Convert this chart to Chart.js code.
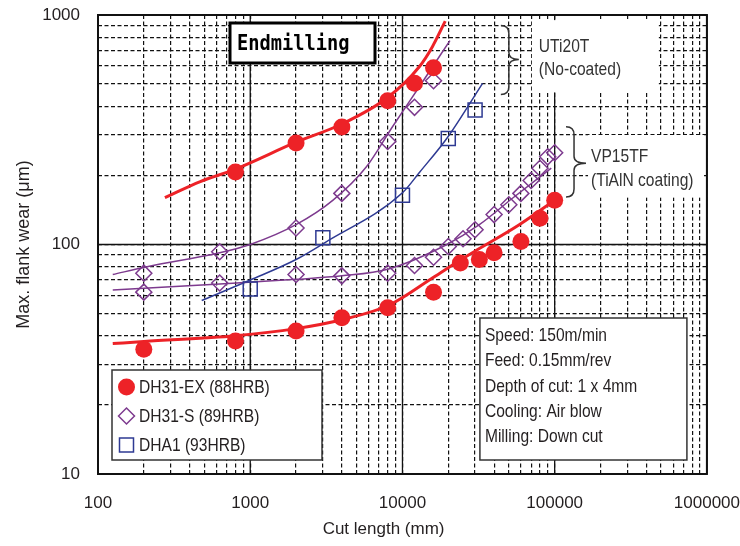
<!DOCTYPE html>
<html>
<head>
<meta charset="utf-8">
<script src="https://cdn.jsdelivr.net/npm/chart.js@4.4.1/dist/chart.umd.min.js"></script>
<style>
  html, body { margin: 0; padding: 0; background: #fff; }
  canvas { display: block; }
</style>
</head>
<body>
<canvas id="grafico" width="740" height="546"></canvas>
<script>
// measured points (cut length mm / flank wear um)
const cutExUTi  = [800, 2000, 4000, 8000, 12000, 16000];
const wearExUTi = [207, 277, 325, 423, 504, 589];
const cutExVP   = [200, 800, 2000, 4000, 8000, 16000, 24000, 32000, 40000, 60000, 80000, 100000];
const wearExVP  = [35, 38, 42, 48, 53, 62, 83, 86, 92, 103, 130, 156];
const cutSUTi   = [200, 630, 2000, 4000, 8000, 12000, 16000];
const wearSUTi  = [75, 93, 118, 167, 281, 396, 517];
const cutSVP    = [200, 630, 2000, 4000, 8000, 12000, 16000, 20000, 25000, 30000, 40000, 50000, 60000, 70000, 80000, 90000, 100000];
const wearSVP   = [62, 68, 74, 73, 75, 81, 88, 98, 106, 116, 135, 149, 167, 190, 215, 241, 251];
const cutA1     = [1000, 3000, 10000, 20000, 30000];
const wearA1    = [64, 107, 164, 290, 386];

// trend curves
const fitExUTiX = [275, 470, 800, 2000, 4000, 8000, 12900, 15700, 19100];
const fitExUTiY = [160, 188, 213, 279, 335, 437, 595, 726, 940];
const fitExVPX  = [125, 200, 800, 2000, 4000, 8200, 16000, 23600, 32000, 58500, 100000];
const fitExVPY  = [37, 37.8, 40, 43, 47, 54.5, 72, 85, 96, 122, 156];
const fitSUTiX  = [125, 210, 630, 1000, 2000, 3500, 5800, 8600, 12900, 20500];
const fitSUTiY  = [74, 80, 92, 100, 122, 156, 218, 326, 487, 773];
const fitSVPX   = [125, 630, 2000, 4000, 8000, 19300, 32000, 52800, 95000];
const fitSVPY   = [63.4, 67.3, 70.5, 73, 78, 99.5, 122, 159, 215];
const fitA1X    = [480, 1000, 2000, 3100, 10000, 13000, 19700, 33600];
const fitA1Y    = [57, 70, 86, 102, 168, 207, 292, 504];

// axes
const xLabels = ['100', '1000', '10000', '100000', '1000000'];
const yLabels = ['10', '100', '1000'];
const steps = [1, 2, 3, 4, 5, 6, 7, 8, 9];

const legendItems = ['DH31-EX (88HRB)', 'DH31-S (89HRB)', 'DHA1 (93HRB)'];
const conditions = ['Speed: 150m/min', 'Feed: 0.15mm/rev', 'Depth of cut: 1 x 4mm', 'Cooling: Air blow', 'Milling: Down cut'];

const RED = '#ED2227', PURPLE = '#7D3A8E', BLUE = '#2E3A93', INK = '#231F20';
const SANS = "'Liberation Sans', Arial, sans-serif";

function gridTicks(labels) {
  const out = [];
  labels.slice(0, -1).forEach(l => steps.forEach(s => out.push(s * Number(l))));
  out.push(Number(labels[labels.length - 1]));
  return out;
}
const pts = (xs, ys) => xs.map((v, i) => ({x: v, y: ys[i]}));

function marker(label, xs, ys, style, col, r) {
  return {
    label: label, data: pts(xs, ys), order: 0,
    pointStyle: style, pointRadius: r, pointHoverRadius: r,
    backgroundColor: style === 'circle' ? col : 'rgba(0,0,0,0)',
    borderColor: col, borderWidth: style === 'circle' ? 0 : 1.5
  };
}
function curve(xs, ys, col, w) {
  return {
    data: pts(xs, ys), order: 1, showLine: true, pointRadius: 0,
    borderColor: col, borderWidth: w, backgroundColor: col,
    tension: 0.4, cubicInterpolationMode: 'monotone'
  };
}

// narrow text: the original uses a condensed face
function narrowText(ctx, t, x, y, sx) {
  ctx.save();
  ctx.translate(x, y);
  ctx.scale(sx || 0.82, 1);
  ctx.fillText(t, 0, 0);
  ctx.restore();
}
function brace(ctx, xv, y1, ym, y2, tip) {
  ctx.beginPath();
  ctx.moveTo(xv - 8, y1);
  ctx.quadraticCurveTo(xv, y1, xv, y1 + 8);
  ctx.lineTo(xv, ym - 7);
  ctx.quadraticCurveTo(xv, ym, xv + tip, ym);
  ctx.quadraticCurveTo(xv, ym, xv, ym + 7);
  ctx.lineTo(xv, y2 - 8);
  ctx.quadraticCurveTo(xv, y2, xv - 8, y2);
  ctx.stroke();
}
function whiteBox(ctx, x, y, w, h, lw, col) {
  ctx.fillStyle = '#fff';
  ctx.fillRect(x, y, w, h);
  if (lw) { ctx.lineWidth = lw; ctx.strokeStyle = col; ctx.strokeRect(x, y, w, h); }
}

const decor = {
  id: 'decor',
  beforeDatasetsDraw(chart) {
    const {ctx, chartArea: a, scales: {x, y}} = chart;
    ctx.save();
    ctx.strokeStyle = '#111';
    ctx.lineWidth = 1.3;
    ctx.beginPath();
    xLabels.forEach(l => { const p = x.getPixelForValue(Number(l)); ctx.moveTo(p, a.top); ctx.lineTo(p, a.bottom); });
    yLabels.forEach(l => { const p = y.getPixelForValue(Number(l)); ctx.moveTo(a.left, p); ctx.lineTo(a.right, p); });
    ctx.stroke();
    ctx.lineWidth = 2;
    ctx.strokeRect(a.left, a.top, a.width, a.height);
    ctx.restore();
  },
  afterDatasetsDraw(chart) {
    const {ctx, chartArea: a, scales: {x, y}} = chart;
    ctx.save();
    ctx.textBaseline = 'middle';
    ctx.textAlign = 'left';

    // Endmilling title box
    whiteBox(ctx, a.left + 132, a.top + 8, 145, 40, 3, '#000');
    ctx.fillStyle = '#000';
    ctx.font = "bold 22px 'DejaVu Sans Mono', monospace";
    narrowText(ctx, 'Endmilling', a.left + 139, a.top + 29, 0.85);

    // grade braces
    ctx.font = '19px ' + SANS;
    let xv = x.getPixelForValue(50000);
    whiteBox(ctx, xv + 23, y.getPixelForValue(950), 127, y.getPixelForValue(460) - y.getPixelForValue(950));
    ctx.strokeStyle = '#333'; ctx.lineWidth = 1.5;
    brace(ctx, xv, y.getPixelForValue(900), y.getPixelForValue(640), y.getPixelForValue(450), 10);
    ctx.fillStyle = '#333';
    narrowText(ctx, 'UTi20T', xv + 30, y.getPixelForValue(726));
    narrowText(ctx, '(No-coated)', xv + 30, y.getPixelForValue(576));

    xv = x.getPixelForValue(134000);
    whiteBox(ctx, xv + 14, y.getPixelForValue(300), 116, y.getPixelForValue(160) - y.getPixelForValue(300));
    ctx.strokeStyle = '#333'; ctx.lineWidth = 1.5;
    brace(ctx, xv, y.getPixelForValue(326), y.getPixelForValue(226), y.getPixelForValue(161), 12);
    ctx.fillStyle = '#333';
    narrowText(ctx, 'VP15TF', xv + 17, y.getPixelForValue(240));
    narrowText(ctx, '(TiAlN coating)', xv + 17, y.getPixelForValue(190));

    // legend
    const lx = a.left + 14, ly = a.bottom - 104;
    whiteBox(ctx, lx, ly, 210, 90, 1.5, '#333');
    const sets = chart.data.datasets;
    ctx.font = '19px ' + SANS;
    [0, 2, 4].forEach((di, k) => {
      const ds = sets[di];
      const cy = ly + 17 + k * 29;
      ctx.fillStyle = ds.backgroundColor;
      ctx.strokeStyle = ds.borderColor;
      ctx.lineWidth = ds.borderWidth;
      Chart.helpers.drawPoint(ctx, {pointStyle: ds.pointStyle, rotation: 0,
        radius: ds.pointStyle === 'rect' ? 9.9 : ds.pointStyle === 'rectRot' ? 8 : 8.5,
        borderWidth: ds.borderWidth}, lx + 14.5, cy);
      ctx.fillStyle = INK;
      narrowText(ctx, legendItems[k], lx + 27, cy + 1);
    });

    // test conditions
    const cx = a.right - 227, cy0 = a.bottom - 156;
    whiteBox(ctx, cx, cy0, 207, 142, 1.5, '#333');
    ctx.fillStyle = INK;
    conditions.forEach((t, i) => narrowText(ctx, t, cx + 5, cy0 + 18 + i * 25.2));
    ctx.restore();
  }
};

const graph = new Chart(document.getElementById('grafico').getContext('2d'), {
  type: 'scatter',
  data: {
    datasets: [
      marker(legendItems[0], cutExUTi, wearExUTi, 'circle', RED, 8.5),
      marker(legendItems[0], cutExVP, wearExVP, 'circle', RED, 8.5),
      marker(legendItems[1], cutSUTi, wearSUTi, 'rectRot', PURPLE, 8),
      marker(legendItems[1], cutSVP, wearSVP, 'rectRot', PURPLE, 8),
      marker(legendItems[2], cutA1, wearA1, 'rect', BLUE, 9.9),
      curve(fitExUTiX, fitExUTiY, RED, 3),
      curve(fitExVPX, fitExVPY, RED, 3),
      curve(fitSUTiX, fitSUTiY, PURPLE, 1.5),
      curve(fitSVPX, fitSVPY, PURPLE, 1.5),
      curve(fitA1X, fitA1Y, BLUE, 1.5)
    ]
  },
  options: {
    responsive: false,
    devicePixelRatio: 1,
    animation: false,
    events: [],
    layout: {padding: {top: 15, right: 32, bottom: 0, left: 0}},
    plugins: {legend: {display: false}, tooltip: {enabled: false}},
    scales: {
      x: {
        type: 'logarithmic', min: 100, max: 1000000,
        afterBuildTicks: s => { s.ticks = gridTicks(xLabels).map(v => ({value: v})); },
        afterFit: s => { s.height = 72; },
        grid: {color: '#111', lineWidth: 1.2, drawTicks: true, tickLength: 19, tickColor: 'rgba(0,0,0,0)'},
        border: {display: false, dash: [4, 2.5]},
        ticks: {
          autoSkip: false, maxRotation: 0, minRotation: 0, padding: 0, color: INK,
          font: {family: SANS, size: 17},
          callback: v => xLabels.includes(String(v)) ? String(v) : ''
        },
        title: {display: true, text: 'Cut length (mm)        ', color: INK,
          font: {family: SANS, size: 17}, padding: {top: 0, bottom: 6}}
      },
      y: {
        type: 'logarithmic', min: 10, max: 1000,
        afterBuildTicks: s => { s.ticks = gridTicks(yLabels).map(v => ({value: v})); },
        afterFit: s => { s.width = 98; },
        grid: {color: '#111', lineWidth: 1.2, drawTicks: true, tickLength: 18, tickColor: 'rgba(0,0,0,0)'},
        border: {display: false, dash: [4, 2.5]},
        ticks: {
          autoSkip: false, padding: 0, color: INK,
          font: {family: SANS, size: 17},
          callback: v => yLabels.includes(String(v)) ? String(v) : ''
        },
        title: {display: true, text: 'Max. flank wear (μm)', color: INK,
          font: {family: SANS, size: 18}, padding: {top: 13, bottom: 0}}
      }
    }
  },
  plugins: [decor]
});
</script>
</body>
</html>
